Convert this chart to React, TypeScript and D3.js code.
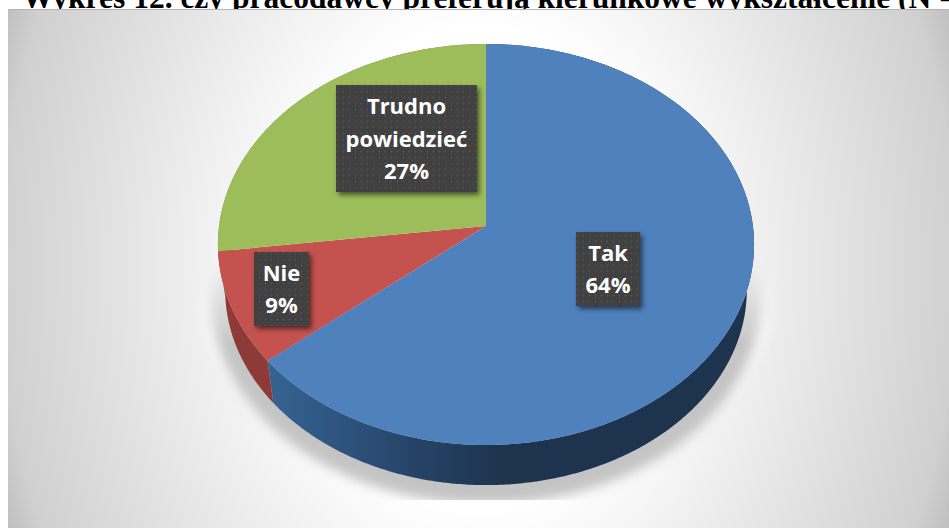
import React from 'react';
import * as d3 from 'd3';

const width = 949;
const height = 528;

const categories = ['Tak', 'Nie', 'Trudno powiedzieć'];
const shares = [64, 9, 27];
const sliceColors = ['#4f81bd', '#c4524f', '#9dbd5b'];
const titleText = 'Wykres 12. czy pracodawcy preferują kierunkowe wykształcenie (N =';

// perspective projection of the pie disc
const cx = 486;
const apexY = 226;
const tilt = 0.0923;
const discX = 266.9;
const discY = 198.8;
// the lower rim is a bit narrower than the top one
const rimScale = 0.973;
const rimApexY = 272;

type Pt = [number, number];

function project(angle: number, r: number, scale: number, y0: number): Pt {
  const u = Math.sin(angle) * r;
  const v = Math.cos(angle) * r;
  const w = 1 + tilt * v;
  return [cx + (scale * discX * u) / w, y0 - (scale * discY * v) / w];
}

function arcPoints(a0: number, a1: number, scale: number, y0: number): Pt[] {
  const steps = Math.max(2, Math.ceil(Math.abs(a1 - a0) / 0.01));
  return d3.range(steps + 1).map(i => project(a0 + ((a1 - a0) * i) / steps, 1, scale, y0));
}

const line = d3.line<Pt>();
const slices = d3.pie<number>().sort(null)(shares);

const topPath = (a0: number, a1: number) =>
  line([[cx, apexY], ...arcPoints(a0, a1, 1, apexY)]) + 'Z';
const wallPath = (a0: number, a1: number) =>
  line([...arcPoints(a0, a1, 1, apexY), ...arcPoints(a1, a0, rimScale, rimApexY)]) + 'Z';
const fullRim = (grow: number, y0: number) =>
  line(arcPoints(0, Math.PI * 2, rimScale * grow, y0)) + 'Z';

const labels = [
  { lines: ['Tak', '64%'], x: 576, y: 232, w: 64, h: 74 },
  { lines: ['Nie', '9%'], x: 254, y: 252, w: 55, h: 74 },
  { lines: ['Trudno', 'powiedzieć', '27%'], x: 336, y: 85, w: 141, h: 107 },
];

export default function App() {
  return (
    <svg
      width={width}
      height={height}
      style={{ position: 'absolute', left: 0, top: 0, display: 'block' }}
    >
      <defs>
        <radialGradient
          id="bg"
          gradientUnits="userSpaceOnUse"
          cx={478}
          cy={268}
          r={510}
          gradientTransform="translate(478,268) scale(1,1.3) translate(-478,-268)"
        >
          <stop offset="0.36" stopColor="#ffffff" />
          <stop offset="0.79" stopColor="#dcdcdc" />
          <stop offset="0.94" stopColor="#d0d0d0" />
          <stop offset="1" stopColor="#c0c0c0" />
        </radialGradient>
        <linearGradient id="blueWall" gradientUnits="userSpaceOnUse" x1={265} x2={500} y1={0} y2={0}>
          <stop offset="0" stopColor="#366494" />
          <stop offset="0.6" stopColor="#27456a" />
          <stop offset="1" stopColor="#1e334e" />
        </linearGradient>
        <linearGradient id="fadeIn" gradientUnits="userSpaceOnUse" x1={0} x2={0} y1={262} y2={345}>
          <stop offset="0" stopColor="#000" />
          <stop offset="1" stopColor="#fff" />
        </linearGradient>
        <mask id="shadowMask" maskUnits="userSpaceOnUse" x={0} y={0} width={width} height={height}>
          <rect x={0} y={0} width={width} height={500} fill="url(#fadeIn)" />
        </mask>
        <filter id="blurWide" x="-10%" y="-10%" width="120%" height="120%">
          <feGaussianBlur stdDeviation="6" />
        </filter>
        <filter id="blurHalo" x="-10%" y="-10%" width="120%" height="120%">
          <feGaussianBlur stdDeviation="5" />
        </filter>
        <filter id="labelShadow" x="-20%" y="-20%" width="150%" height="150%">
          <feDropShadow dx="2.5" dy="3" stdDeviation="2.5" floodColor="#000" floodOpacity="0.55" />
        </filter>
        <pattern id="dots" patternUnits="userSpaceOnUse" width={6} height={6}>
          <rect width={6} height={6} fill="#3f3f3f" />
          <circle cx={1.5} cy={1.5} r={0.9} fill="#555555" />
          <circle cx={4.5} cy={4.5} r={0.6} fill="#4a4a4a" />
        </pattern>
      </defs>

      <text
        x={22}
        y={8}
        fontFamily="'Liberation Serif', serif"
        fontWeight="bold"
        fontSize={31.5}
        fill="#000"
      >
        {titleText}
      </text>

      <rect x={8} y={9} width={width - 8} height={height - 9} fill="url(#bg)" />
      <line x1={8} x2={width} y1={9.5} y2={9.5} stroke="#b4b4b4" strokeWidth={1} />

      <g mask="url(#shadowMask)">
        <path d={fullRim(1.12, 262)} fill="#f4f4f4" filter="url(#blurHalo)" />
        <path d={fullRim(1.05, 280)} fill="#c4c4c4" filter="url(#blurWide)" />
      </g>

      {slices.map((s, i) => (
        <path
          key={'wall-' + categories[i]}
          d={wallPath(s.startAngle, s.endAngle)}
          fill={i === 0 ? 'url(#blueWall)' : i === 1 ? '#8e3a38' : '#6d8a3a'}
        />
      ))}
      {slices.map((s, i) => (
        <path key={categories[i]} d={topPath(s.startAngle, s.endAngle)} fill={sliceColors[i]} />
      ))}

      {labels.map(l => {
        const mid = l.x + l.w / 2;
        const first = l.y + l.h / 2 - ((l.lines.length - 1) * 32.5) / 2 + 8;
        return (
          <g key={l.lines.join(' ')}>
            <rect x={l.x} y={l.y} width={l.w} height={l.h} fill="url(#dots)" filter="url(#labelShadow)" />
            {l.lines.map((t, j) => (
              <text
                key={t}
                x={mid}
                y={first + j * 32.5}
                textAnchor="middle"
                fontFamily="'Open Sans', sans-serif"
                fontWeight={700}
                fontSize={22}
                fill="#ffffff"
              >
                {t}
              </text>
            ))}
          </g>
        );
      })}
    </svg>
  );
}
